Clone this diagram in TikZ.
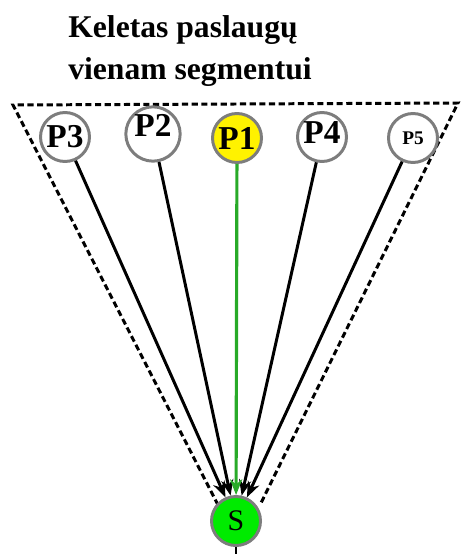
\documentclass[tikz,border=0pt]{standalone}
\usepackage{fontspec}
\setmainfont{Liberation Serif}
\usetikzlibrary{arrows.meta,positioning}
\definecolor{sgreen}{RGB}{0,235,0}
\definecolor{pgreen}{RGB}{40,170,40}
\definecolor{ringgray}{RGB}{125,125,125}

\begin{document}
\begin{tikzpicture}[x=0.02cm,y=-0.02cm,
  srv/.style={circle,draw=ringgray,line width=1.7pt,fill=white,
              minimum size=0.98cm,inner sep=0pt,
              font=\bfseries\fontsize{19}{19}\selectfont},
  ln/.style={-{Stealth[length=9pt,width=7pt]},line width=1.7pt},
  seg/.style={dash pattern=on 3.5pt off 2pt,line width=1.7pt},
  ttl/.style={font=\bfseries\fontsize{18}{18}\selectfont,align=left,
              anchor=north west,inner sep=0pt}
]
\useasboundingbox (0,0) rectangle (460,554);

% title
\node[ttl] (title) at (68,15) {Keletas paslaugų\\[6pt]vienam segmentui};

% dashed segment outline
\coordinate (tl) at (13,105);
\coordinate (tr) at (458,103);
\coordinate (bl) at (218,505);
\coordinate (br) at (260,505);
\draw[seg] (bl) -- (tl) -- (tr) -- (br);

% services
\node[srv] (p3) at (65,137)  {P3};
\node[srv,text depth=10pt] (p2) at (153,134) {P2};
\node[srv,fill=yellow] (p1) at (237,138) {P1};
\node[srv,text depth=5pt] (p4) at (322,137) {P4};
\node[srv,font=\bfseries\fontsize{11}{11}\selectfont] (p5) at (413,138) {P5};

% segment node
\node[srv,fill=sgreen,font=\fontsize{17}{17}\selectfont] (s) at (236,521) {S};
\coordinate (out) at (236,554);

% links to the segment
\foreach \p in {p3,p2,p4,p5}
  \draw[ln] (\p) -- (s);
\draw[ln,draw=pgreen,line width=1.8pt] (p1) -- (s);
\draw[line width=1.7pt] (s) -- (out);

\end{tikzpicture}
\end{document}
